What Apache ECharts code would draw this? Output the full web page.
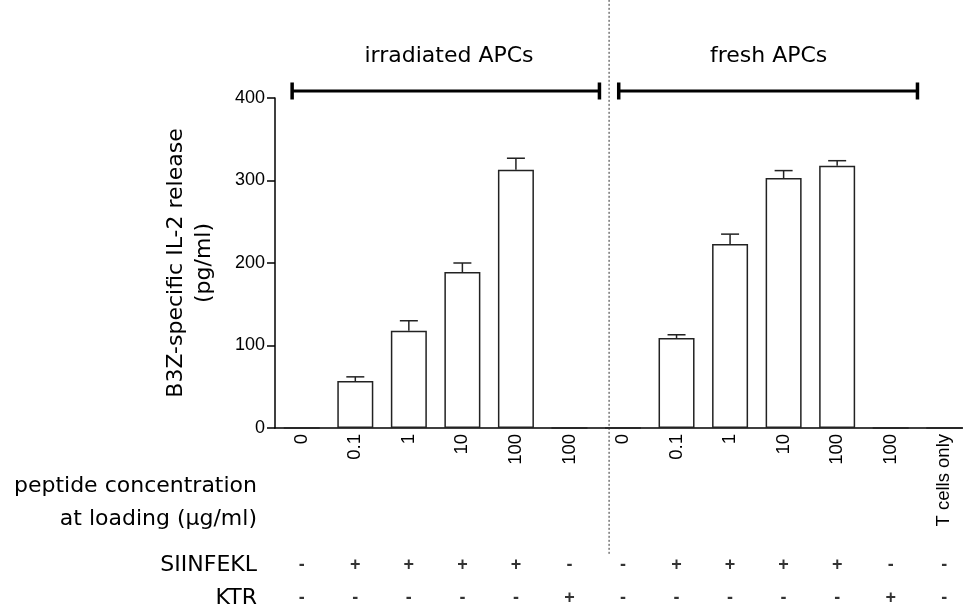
<!DOCTYPE html>
<html>
<head>
<meta charset="utf-8">
<script src="https://cdn.jsdelivr.net/npm/echarts@6/dist/echarts.min.js"></script>
<style>
  html, body { margin: 0; padding: 0; background: #fff; overflow: hidden; }
  #main { width: 975px; height: 615px; }
</style>
</head>
<body>
<div id="main"></div>
<script>
// data
const categories = ['0', '0.1', '1', '10', '100', '100', '0', '0.1', '1', '10', '100', '100', 'T cells only'];
const il2Mean = [0, 57, 118, 189, 313, 0, 0, 109, 223, 303, 318, 0, 0];
const il2Err = [0, 5, 12, 11, 14, 0, 0, 4, 12, 9, 6, 0, 0];
const siinfekl = ['-', '+', '+', '+', '+', '-', '-', '+', '+', '+', '+', '-', '-'];
const ktr = ['-', '-', '-', '-', '-', '+', '-', '-', '-', '-', '-', '+', '-'];
const rowNames = ['SIINFEKL', 'KTR'];
const groups = [
  { name: 'irradiated APCs', from: -0.18, to: 5.56, mid: 2.75 },
  { name: 'fresh APCs', from: 5.92, to: 11.5, mid: 8.72 }
];
const yTicks = [0, 100, 200, 300, 400];

const handFont = '"Comic Sans MS", "DejaVu Sans", sans-serif';
const armFont = '"Liberation Sans", Arial, sans-serif';

var myChart = echarts.init(document.getElementById('main'));

const signData = [];
siinfekl.forEach((s, i) => signData.push([i, 'SIINFEKL', s]));
ktr.forEach((s, i) => signData.push([i, 'KTR', s]));

const series = [
  {
    type: 'bar',
    data: il2Mean,
    barWidth: 36,
    itemStyle: { color: '#fff', borderColor: '#222', borderWidth: 1.5 },
    silent: true
  },
  {
    type: 'custom',
    data: il2Mean.map((m, i) => [i, m, m + il2Err[i]]),
    renderItem: function (params, api) {
      if (api.value(2) === api.value(1)) return null;
      const base = api.coord([api.value(0), api.value(1)]);
      const top = api.coord([api.value(0), api.value(2)]);
      const half = 9;
      return {
        type: 'group',
        children: [
          { type: 'line', shape: { x1: base[0], y1: base[1], x2: top[0], y2: top[1] }, style: { stroke: '#222', lineWidth: 1.5 } },
          { type: 'line', shape: { x1: top[0] - half, y1: top[1], x2: top[0] + half, y2: top[1] }, style: { stroke: '#222', lineWidth: 1.5 } }
        ]
      };
    },
    z: 3
  },
  // divider between groups
  {
    type: 'line',
    xAxisIndex: 1,
    data: [[5.74, 519], [5.74, -154]],
    symbol: 'none',
    clip: false,
    lineStyle: { color: '#333', width: 1, type: [2, 2] },
    silent: true
  }
];

groups.forEach(g => {
  series.push({
    type: 'line',
    xAxisIndex: 1,
    data: [[g.from, 408.5], [g.to, 408.5]],
    symbol: 'rect',
    symbolSize: [3.5, 17],
    clip: false,
    itemStyle: { color: '#000' },
    lineStyle: { color: '#000', width: 3 },
    silent: true
  });
  series.push({
    type: 'scatter',
    xAxisIndex: 1,
    data: [[g.mid, 437]],
    symbolSize: 1,
    clip: false,
    itemStyle: { opacity: 0 },
    label: { show: true, position: 'top', distance: 0, formatter: g.name, fontFamily: handFont, fontSize: 22, color: '#000', opacity: 1 },
    silent: true
  });
});

series.push({
  type: 'scatter',
  xAxisIndex: 2,
  yAxisIndex: 1,
  data: signData,
  symbolSize: 0,
  label: {
    show: true, position: 'inside',
    formatter: p => p.data[2],
    fontFamily: armFont, fontSize: 18, fontWeight: 'bold', color: '#000'
  },
  silent: true
});

var option = {
  animation: false,
  backgroundColor: '#fff',
  grid: [
    { left: 275, top: 98, width: 696, height: 330 },
    { left: 275, top: 549, width: 696, height: 72 }
  ],
  xAxis: [
    {
      type: 'category', gridIndex: 0, data: categories,
      axisLine: { onZero: false, lineStyle: { color: '#000', width: 1.5 } },
      axisTick: { show: false },
      axisLabel: { rotate: 90, margin: 6, fontFamily: armFont, fontSize: 18.5, color: '#000', interval: 0 }
    },
    { type: 'value', gridIndex: 0, min: -0.5, max: 12.5, show: false },
    { type: 'value', gridIndex: 1, min: -0.5, max: 12.5, show: false }
  ],
  yAxis: [
    {
      type: 'value', gridIndex: 0, min: yTicks[0], max: yTicks[yTicks.length - 1], interval: 100,
      name: 'B3Z-specific IL-2 release\n(pg/ml)',
      nameLocation: 'middle', nameGap: 57, nameRotate: 90,
      nameTextStyle: { fontFamily: handFont, fontSize: 22, color: '#000', lineHeight: 28 },
      axisLine: { show: true, onZero: false, lineStyle: { color: '#000', width: 1.5 } },
      axisTick: { show: true, length: 8, lineStyle: { color: '#000', width: 1.5 } },
      axisLabel: { fontFamily: armFont, fontSize: 18, color: '#000', margin: 10 },
      splitLine: { show: false }
    },
    {
      type: 'category', gridIndex: 1, data: rowNames, inverse: true,
      axisLine: { show: false }, axisTick: { show: false },
      axisLabel: { fontFamily: handFont, fontSize: 22, color: '#000', margin: 18 }
    }
  ],
  graphic: [
    {
      type: 'text', x: 257, y: 486,
      style: { text: 'peptide concentration', align: 'right', verticalAlign: 'middle', fontFamily: handFont, fontSize: 22, fill: '#000' }
    },
    {
      type: 'text', x: 257, y: 519,
      style: { text: 'at loading (\u03bcg/ml)', align: 'right', verticalAlign: 'middle', fontFamily: handFont, fontSize: 22, fill: '#000' }
    }
  ],
  series: series
};

myChart.setOption(option);
</script>
</body>
</html>
